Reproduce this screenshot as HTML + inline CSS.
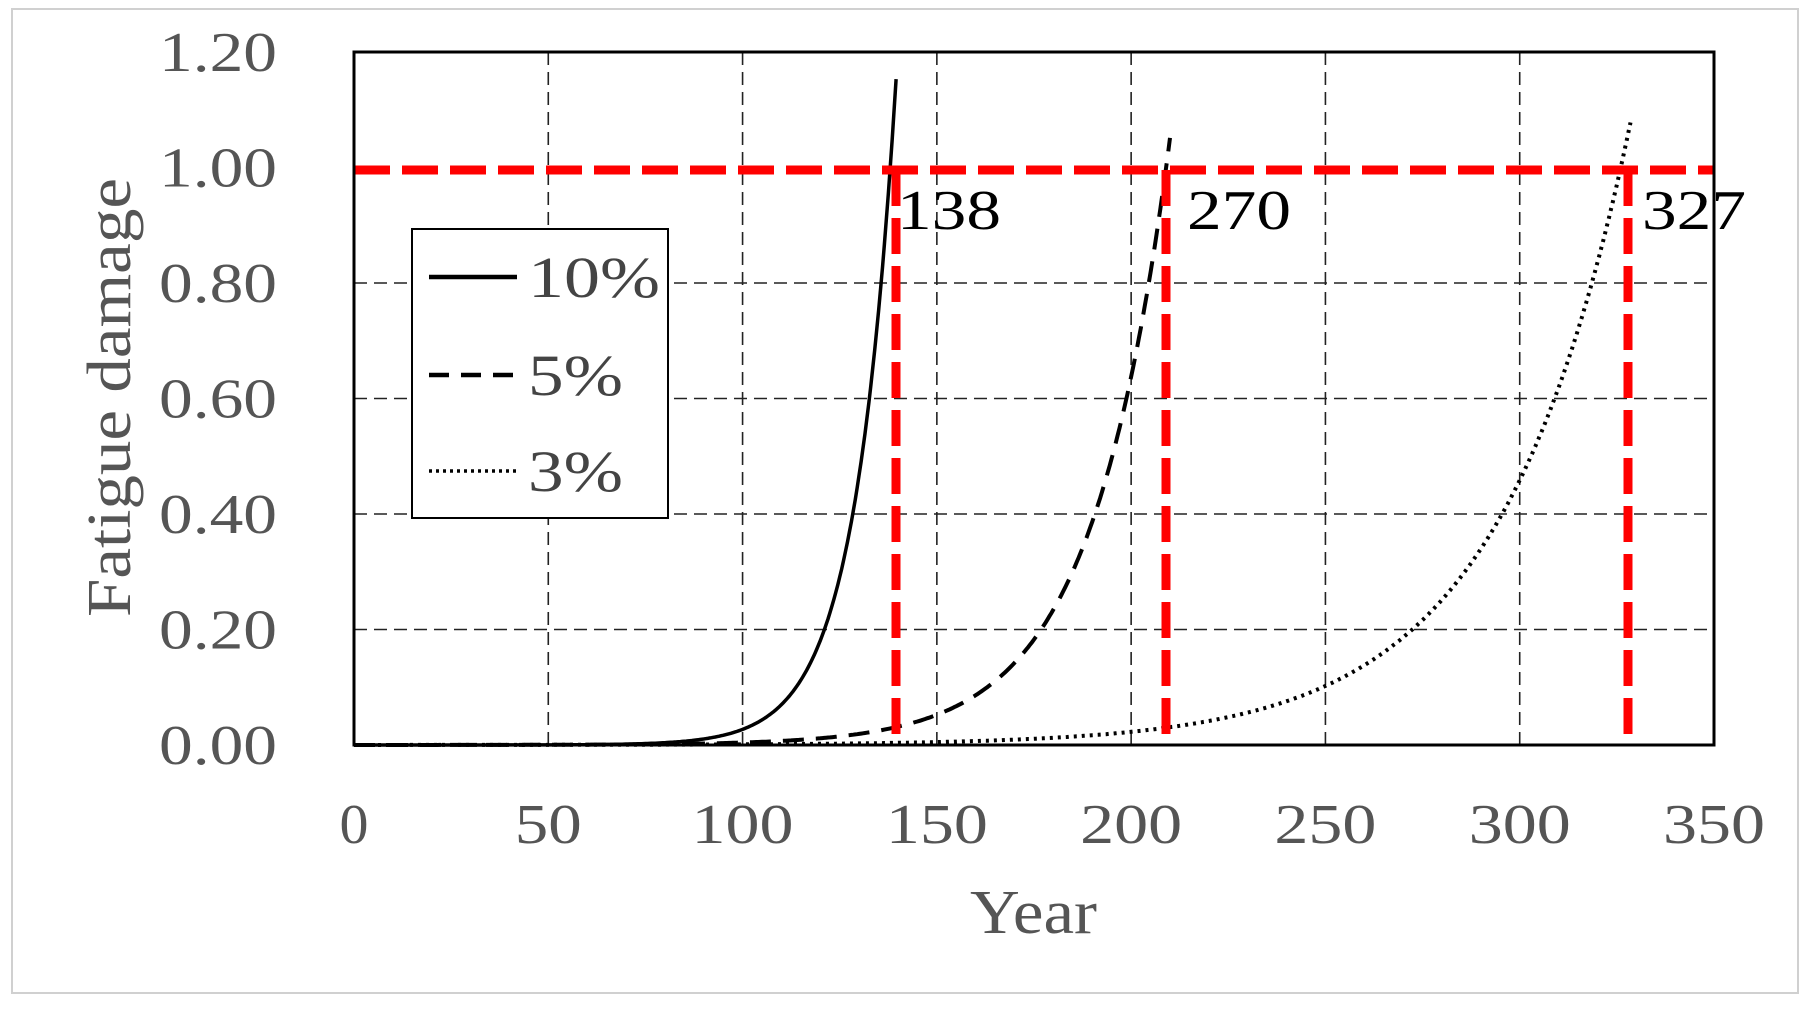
<!DOCTYPE html>
<html><head><meta charset="utf-8"><style>
html,body{margin:0;padding:0;background:#fff;}
svg{display:block;}
text{font-family:"Liberation Serif",serif;}
</style></head><body>
<svg id="s" width="1810" height="1009" viewBox="0 0 1810 1009" xmlns="http://www.w3.org/2000/svg">
<rect x="12" y="9" width="1786" height="984" fill="#fff" stroke="#d0d0d0" stroke-width="2"/>
<g id="grid" stroke="#222" stroke-width="1.6" stroke-dasharray="13,7" fill="none"></g>
<g id="curves" fill="none" stroke="#000" stroke-width="3.5"></g>
<g stroke="#f00" stroke-width="9" stroke-dasharray="36,12" fill="none">
<line x1="354" y1="170" x2="1714" y2="170"/>
<line x1="896" y1="170" x2="896" y2="745"/>
<line x1="1166" y1="170" x2="1166" y2="745"/>
<line x1="1628" y1="170" x2="1628" y2="745"/>
</g>
<rect x="354" y="52" width="1360" height="693" fill="none" stroke="#000" stroke-width="3"/>
<g font-size="56" fill="#000" lengthAdjust="spacingAndGlyphs">
<text x="897" y="229" textLength="104" lengthAdjust="spacingAndGlyphs">138</text>
<text x="1187" y="229" textLength="104" lengthAdjust="spacingAndGlyphs">270</text>
<text x="1642" y="229" textLength="104" lengthAdjust="spacingAndGlyphs">327</text>
</g>
<rect x="412" y="229" width="256" height="289" fill="#fff" stroke="#000" stroke-width="2"/>
<line x1="429" y1="277" x2="517" y2="277" stroke="#000" stroke-width="4.5"/>
<line x1="429" y1="375" x2="517" y2="375" stroke="#000" stroke-width="4.5" stroke-dasharray="20,12"/>
<line x1="429" y1="471" x2="517" y2="471" stroke="#000" stroke-width="3.5" stroke-dasharray="3,4"/>
<g font-size="58" fill="#444">
<text x="528" y="297" textLength="132" lengthAdjust="spacingAndGlyphs">10%</text>
<text x="528" y="395" textLength="95" lengthAdjust="spacingAndGlyphs">5%</text>
<text x="528" y="491" textLength="95" lengthAdjust="spacingAndGlyphs">3%</text>
</g>
<g id="yl" font-size="56" fill="#555"></g>
<g id="xl" font-size="56" fill="#555"></g>
<text x="970" y="933" font-size="62" fill="#555" textLength="127" lengthAdjust="spacingAndGlyphs">Year</text>
<text transform="translate(130,617) rotate(-90)" font-size="62" fill="#555" textLength="439" lengthAdjust="spacingAndGlyphs">Fatigue damage</text>
</svg>
<script>
var NS="http://www.w3.org/2000/svg";
function X(v){return 354+v*1360/350;}
function Y(v){return 745-v*577.5;}
function el(p,t,a,txt){var e=document.createElementNS(NS,t);for(var k in a)e.setAttribute(k,a[k]);if(txt!=null)e.textContent=txt;document.getElementById(p).appendChild(e);}
for(var i=50;i<350;i+=50)el("grid","line",{x1:X(i),y1:52,x2:X(i),y2:745});
for(var j=1;j<=4;j++)el("grid","line",{x1:354,y1:Y(j*0.2),x2:1714,y2:Y(j*0.2)});
var yv=["0.00","0.20","0.40","0.60","0.80","1.00","1.20"];
for(var j=0;j<7;j++)el("yl","text",{x:159,y:Y(j*0.2)+19,textLength:118,lengthAdjust:"spacingAndGlyphs"},yv[j]);
for(var i=0;i<=350;i+=50){var s=String(i);var w=s.length==1?29:(s.length==2?67:102);
el("xl","text",{x:X(i)-w/2,y:843,textLength:w,lengthAdjust:"spacingAndGlyphs"},s);}
function curve(k,x0,xe,dash,w){var d="";for(var x=0;x<=xe+0.001;x+=0.5){var v=Math.exp(k*(x-x0));d+=(x==0?"M":"L")+X(x).toFixed(1)+","+Y(v).toFixed(1);}
var a={d:d,"stroke-width":w};if(dash)a["stroke-dasharray"]=dash;el("curves","path",a);}
curve(0.095,138,139.5,null,3.5);
curve(0.05,209,210,"21,12",4);
curve(0.03,326,328.5,"3,5",4);
</script>
</body></html>
